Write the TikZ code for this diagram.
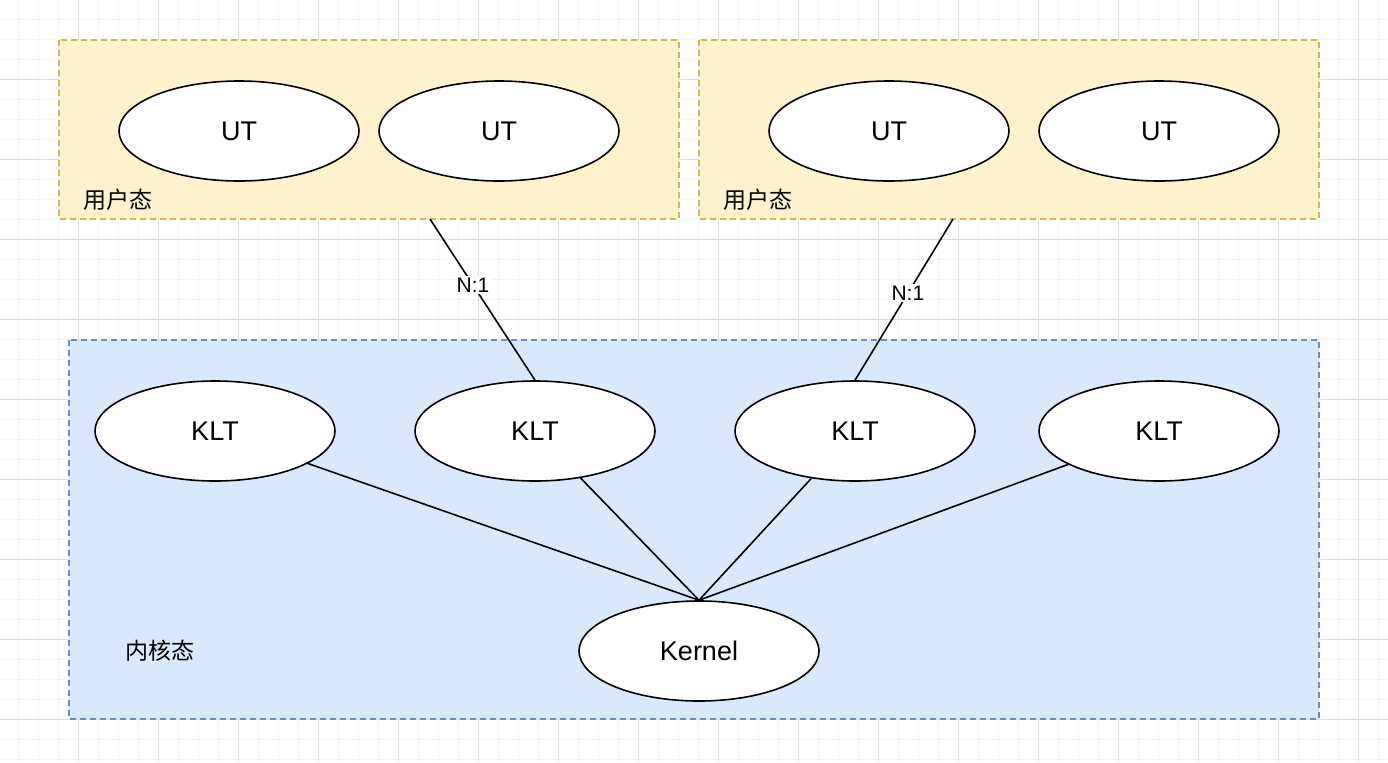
\documentclass[tikz,border=0pt]{standalone}
\usepackage{fontspec}
\setmainfont{Liberation Sans}
\newfontfamily\cjk{Noto Sans CJK SC}
\usepackage{tikz}
\usetikzlibrary{positioning}
\usetikzlibrary{shapes.geometric}

\definecolor{userfill}{HTML}{FFF2CC}
\definecolor{userdraw}{HTML}{D6B656}
\definecolor{kernfill}{HTML}{DAE8FC}
\definecolor{kerndraw}{HTML}{6C8EBF}
\definecolor{gridminor}{HTML}{F2F2F2}
\definecolor{gridmajor}{HTML}{DCDCDC}

\begin{document}
\begin{tikzpicture}[x=0.5pt,y=-0.5pt,line width=0.8pt,
	thread node/.style={ellipse,draw,fill=white,minimum width=120pt,minimum height=50pt,inner sep=0pt,font=\fontsize{13.5}{16}\selectfont},
	space box/.style={dash pattern=on 3pt off 2pt,line width=0.85pt},
	space label/.style={anchor=west,inner sep=0pt,font=\cjk\fontsize{11.5}{14}\selectfont},
	ratio label/.style={fill=white,inner sep=1pt,font=\fontsize{10.5}{12}\selectfont}]

	\useasboundingbox (0,0) rectangle (1388,762);
	\fill[white] (0,0) rectangle (1388,762);
	\foreach \x in {18,38,...,1378} \draw[gridminor,line width=0.5pt] (\x,0) -- (\x,762);
	\foreach \y in {19,39,...,759} \draw[gridminor,line width=0.5pt] (0,\y) -- (1388,\y);
	\foreach \x in {78,158,...,1358} \draw[gridmajor,line width=0.5pt] (\x,0) -- (\x,762);
	\foreach \y in {79,159,...,719} \draw[gridmajor,line width=0.5pt] (0,\y) -- (1388,\y);

	\draw[space box,userdraw,fill=userfill] (59,40) rectangle (679,219);
	\draw[space box,userdraw,fill=userfill] (699,40) rectangle (1319,219);
	\draw[space box,kerndraw,fill=kernfill] (69,340) rectangle (1319,719);

	\node[space label] (user1) at (83,200) {用户态};
	\node[space label] (user2) at (723,200) {用户态};
	\node[space label] (kernlabel) at (125,651) {内核态};

	\node[thread node] (ut1) at (239,131) {UT};
	\node[thread node] (ut2) [right of=ut1,node distance=130pt] {UT};
	\node[thread node] (ut3) at (889,131) {UT};
	\node[thread node] (ut4) [right of=ut3,node distance=135pt] {UT};

	\node[thread node] (k1) at (215,431) {KLT};
	\node[thread node] (k2) [right of=k1,node distance=160pt] {KLT};
	\node[thread node] (k3) [right of=k2,node distance=160pt] {KLT};
	\node[thread node] (k4) [right of=k3,node distance=152pt] {KLT};
	\node[thread node] (kern) at (699,651) {Kernel};

	\coordinate (u1) at (430,219);
	\coordinate (u2) at (953,219);

	\path
	(u1)	edge node[ratio label,pos=0.41] {N:1} (k2.north)
	(u2)	edge node[ratio label,pos=0.46] {N:1} (k3.north)
	(k1)	edge (kern.north)
	(k2)	edge (kern.north)
	(k3)	edge (kern.north)
	(k4)	edge (kern.north);
\end{tikzpicture}
\end{document}
